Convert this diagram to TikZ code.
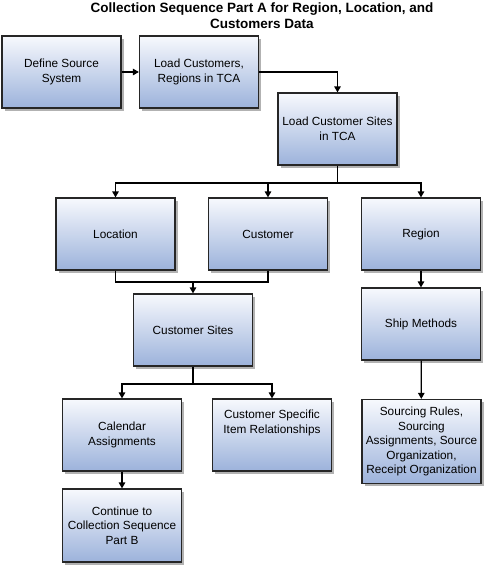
\documentclass[tikz,border=0pt]{standalone}
\usepackage{fontspec}
\setmainfont{Liberation Sans}
\usetikzlibrary{arrows.meta,shadows}
\definecolor{boxtop}{HTML}{F7F9FD}
\definecolor{boxbot}{HTML}{9CB2DB}
\begin{document}
\begin{tikzpicture}[x=1pt,y=-1pt,
  stepbox/.style={draw=black!85,line width=1.2pt,top color=boxtop,bottom color=boxbot,
    minimum width=119pt,minimum height=72pt,inner sep=2pt,align=center,
    font=\fontsize{11.8}{14.5}\selectfont,
    drop shadow={shadow xshift=2.5pt,shadow yshift=-2.5pt,fill=black!30,opacity=1}},
  link/.style={line width=1.2pt,-{Triangle[length=6pt,width=6.5pt]}}]
\useasboundingbox (0,0) rectangle (486,566);
\node[align=center,font=\bfseries\fontsize{13.5}{16}\selectfont] (title) at (262,16)
  {Collection Sequence Part A for Region, Location, and\\Customers Data};
\node[stepbox] (src) at (61.5,72) {Define Source\\System};
\node[stepbox] (lcr) at (199,72) {Load Customers,\\Regions in TCA};
\node[stepbox] (lcs) at (337.5,129) {Load Customer Sites\\in TCA};
\node[stepbox] (loc) at (115.5,234) {Location};
\node[stepbox] (cus) at (268,234) {Customer};
\node[stepbox] (reg) at (421,234) {Region};
\node[stepbox] (sites) at (193,330) {Customer Sites};
\node[stepbox] (ship) at (421,324) {Ship Methods};
\node[stepbox] (cal) at (122,435) {Calendar\\Assignments};
\node[stepbox] (csir) at (272,435) {Customer Specific\\Item Relationships\\[12pt]};
\node[stepbox,minimum height=84pt] (srcg) at (421.5,441.5)
  {Sourcing Rules,\\Sourcing\\Assignments, Source\\Organization,\\Receipt Organization};
\node[stepbox,minimum height=73pt] (cont) at (122,525.5)
  {Continue to\\Collection Sequence\\Part B};
\coordinate (split) at (337.5,183);
\coordinate (merge) at (193,282);
\coordinate (fork) at (193,384);
\draw[link] (src) -- (lcr);
\draw[link] (lcr.east) -| (lcs.north);
\draw[line width=1.2pt] (lcs.south) -- (split);
\foreach \n in {loc,cus,reg}{
  \draw[link] (split) -| (\n.north);
}
\draw[line width=1.2pt] (loc.south) |- (merge) -| (cus.south);
\draw[link] (merge) -- (sites.north);
\draw[line width=1.2pt] (sites.south) -- (fork);
\foreach \n in {cal,csir}{
  \draw[link] (fork) -| (\n.north);
}
\draw[link] (reg) -- (ship);
\draw[link] (ship) -- (srcg);
\draw[link] (cal) -- (cont);
\end{tikzpicture}
\end{document}
